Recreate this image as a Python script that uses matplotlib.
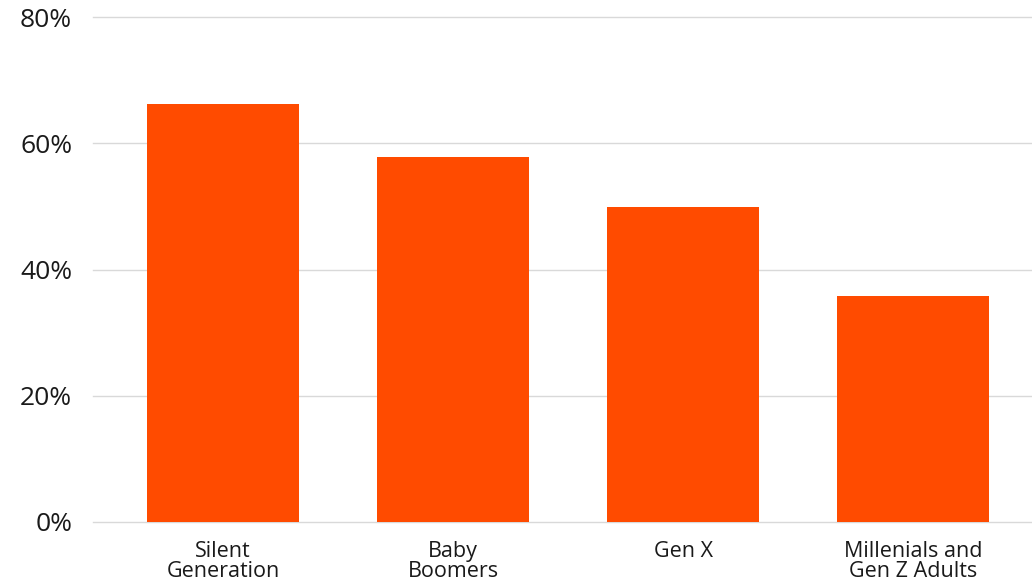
import numpy as np
import matplotlib.pyplot as plt

# dados
geracoes = ["Silent\nGeneration", "Baby\nBoomers", "Gen X", "Millenials and\nGen Z Adults"]
valores = [66.3, 57.8, 49.9, 35.8]   # %
ticks_y = [0, 20, 40, 60, 80]

plt.rcParams['font.family'] = ['Open Sans', 'DejaVu Sans']

fig = plt.figure(figsize=(10.32, 5.84), dpi=100)
ax = fig.add_axes([93 / 1032, 62.3 / 584, 939 / 1032, (521.7 - 17.3) / 584])

x = np.arange(len(geracoes))
ax.bar(x, valores, width=0.661, color="#FF4B00", zorder=3)

ax.set_ylim(0, 80)
ax.set_xlim(-0.565, 3.517)
ax.set_yticks(ticks_y)
ax.set_yticklabels([f"{t}%" for t in ticks_y], fontsize=19, color="#1a1a1a")
ax.set_xticks(x)
ax.set_xticklabels(geracoes, fontsize=15.5, color="#1a1a1a", linespacing=0.95)

ax.grid(axis="y", color="#d9d9d9", linewidth=1, zorder=0)
for gl in ax.get_ygridlines():
    gl.set_clip_on(False)
ax.tick_params(axis="both", length=0)
ax.tick_params(axis="y", pad=15)
ax.tick_params(axis="x", pad=14)
for s in ax.spines.values():
    s.set_visible(False)

fig.savefig("out.png", dpi=100)
